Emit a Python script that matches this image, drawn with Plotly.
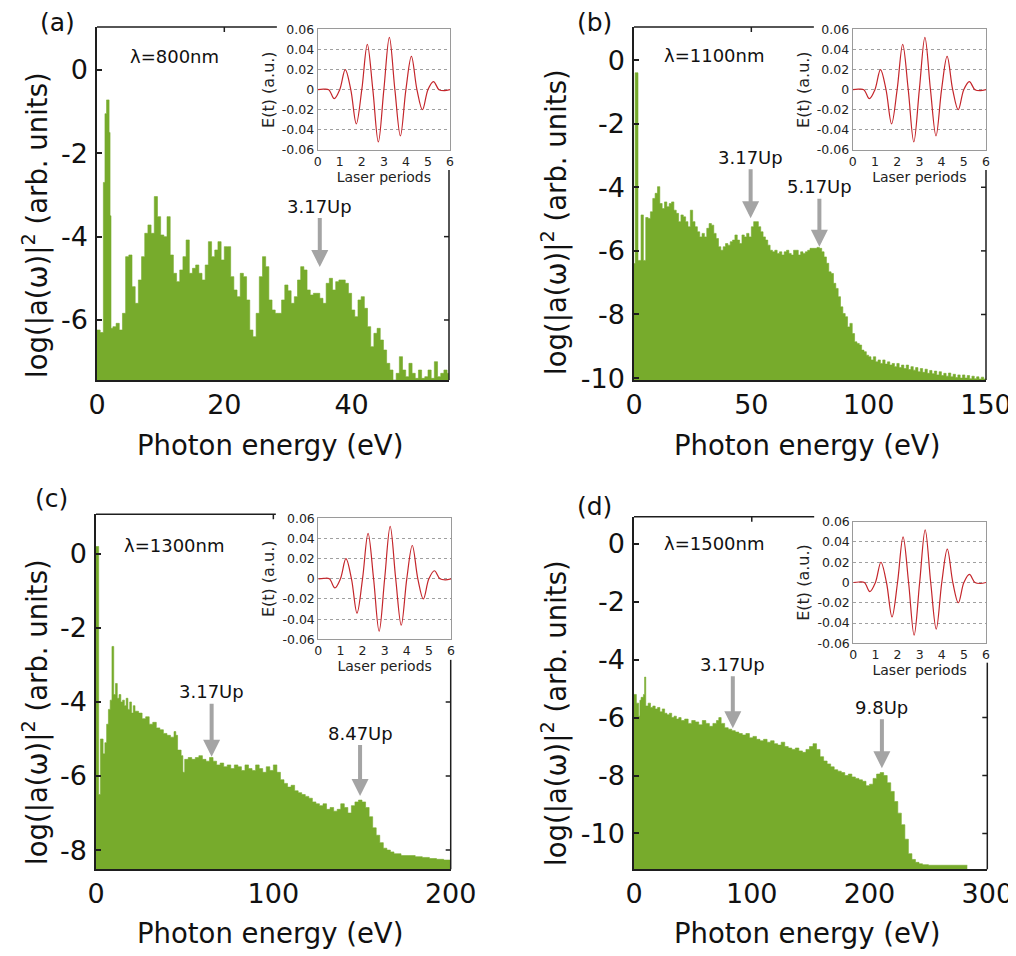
import plotly.graph_objects as go

W, H = 1016, 956          # target picture size
OFF = 8                   # page body margin: the figure starts 8 px in
WF, HF = W - OFF, H - OFF # figure size so that it fills the window
FONT = "DejaVu Sans"
INK = "#111111"
FRAME = "#1e1e1e"
GREEN = "#77ab2c"
RED = "#c4262b"
ARROW_C = "#a4a4a4"
BOX = "#9a9a9a"

# ---------------- inset pulse (same in all panels) ----------------
T_PERIODS = [0, 0.25, 0.5, 0.75, 1, 1.25, 1.5, 1.75, 2, 2.25, 2.5, 2.75, 3,
             3.25, 3.5, 3.75, 4, 4.25, 4.5, 4.75, 5, 5.25, 5.5, 5.75, 6]
E_FIELD = [0, 0.0005, 0, -0.009, 0, 0.020, 0, -0.034, 0, 0.045, 0, -0.052, 0,
           0.052, 0, -0.046, 0, 0.033, 0, -0.020, 0, 0.008, 0, -0.001, 0]
INSET_YT = [0.06, 0.04, 0.02, 0, -0.02, -0.04, -0.06]
INSET_XT = [0, 1, 2, 3, 4, 5, 6]

# ---------------- (a) 800 nm ----------------
A_E = [0, 0.5, 1.0, 1.25, 1.5, 1.9, 2.05, 2.2] + [2.5 + 0.5 * i for i in range(106)] + [55.3]
A_V = [-6.24, -6.3, -2.7, -1.05, -0.72, -1.5, -3.5, -6.2,
       # 2.5 .. 30.0
       -6.16, -6.08, -6.24, -5.84, -4.48, -4.44, -5.2, -5.6, -5.04, -4.48,
       -3.92, -3.72, -3.92, -3.04, -3.52, -3.96, -4.0, -3.52, -4.44, -4.88,
       -5.08, -4.8, -4.48, -4.08, -4.88, -4.76, -4.68, -4.88, -5.04, -4.68,
       -4.12, -4.48, -4.32, -4.12, -4.56, -4.24, -4.24, -4.96, -5.28, -5.44,
       -4.88, -4.96, -5.52, -6.24, -6.4, -5.84, -4.96, -4.48, -4.72, -5.52,
       -5.76, -5.84, -5.84, -5.52, -5.16, -5.3,
       # 30.5 .. 55.0
       -5.6, -5.44, -5.04, -4.72, -4.8, -5.28, -5.4, -5.36, -5.36, -5.48,
       -5.6, -5.12, -5.0, -5.28, -5.08, -5.04, -5.04, -5.12, -5.36, -5.76,
       -5.92, -5.52, -5.44, -5.72, -6.16, -6.64, -6.32, -6.2, -6.48, -6.72,
       -7.04, -7.2, -7.44, -7.28, -6.88, -7.2, -7.36, -7.04, -7.28, -7.4,
       -7.2, -7.4, -7.36, -7.2, -7.4, -7.0, -7.36, -7.28, -7.2, -7.28,
       -7.28]

# ---------------- (b) 1100 nm ----------------
B_E = [0, 0.5, 1.7] + list(range(3, 151))
B_V = [-6.4, -0.4, -6.3,
       -4.87, -6.3, -4.95, -4.98, -4.77, -4.35, -4.19, -3.98, -4.51, -4.67,
       -4.46, -4.61, -4.51, -4.46, -4.72, -4.82, -5.08, -4.87, -4.93, -5.08,
       -5.24, -4.72, -5.08, -5.24, -5.4, -5.56, -5.45, -5.56, -5.29, -5.14,
       -5.19, -5.45, -5.61, -5.87, -5.98, -5.87, -5.77, -5.82, -5.71, -5.66,
       -5.5, -5.66, -5.77, -5.5, -5.56, -5.45, -5.56, -5.24, -5.08, -5.08,
       -5.24, -5.4, -5.56, -5.66, -5.82, -5.98, -6.03, -5.98, -6.08, -6.03,
       -6.13, -6.03, -5.98, -6.08, -6.13, -5.98, -5.98, -6.13, -6.03, -6.08,
       -6.03, -5.98, -5.92, -5.92, -5.92, -5.89, -5.92, -6.03, -6.19, -6.39,
       -6.66, -6.71, -7.02, -7.18, -7.44, -7.76, -7.97, -8.07, -8.39, -8.28,
       -8.6, -8.86, -8.91, -8.96, -9.12, -9.17, -9.28, -9.33, -9.43, -9.33,
       -9.49, -9.43, -9.54, -9.43, -9.56, -9.49, -9.59, -9.54, -9.64, -9.54,
       -9.67, -9.59, -9.7, -9.59, -9.73, -9.64, -9.75, -9.67, -9.8, -9.7,
       -9.82, -9.72, -9.85, -9.76, -9.86, -9.78, -9.9, -9.8, -9.92, -9.85,
       -9.94, -9.84, -9.96, -9.88, -9.98, -9.9, -10.0, -9.9, -10.0, -9.92,
       -10.02, -9.94, -10.02, -9.96, -10.03, -9.97, -10.03, -10.0]

# ---------------- (c) 1300 nm ----------------
C_E = ([0, 1.5, 2.5, 4] + list(range(5, 22)) + list(range(22, 44, 2)) + [44, 45]
       + [46, 48, 49] + list(range(50, 170, 2)) + list(range(172, 201, 4)))
C_V = [0.2, -6.5, -5.0, -5.4,
       # 5 .. 21
       -5.1, -4.6, -4.2, -3.95, -2.5, -3.8, -3.5, -3.9, -3.8, -4.0,
       -3.95, -4.1, -3.9, -4.2, -4.0, -4.3, -4.1,
       # 22 .. 42
       -4.25, -4.3, -4.45, -4.4, -4.6, -4.55, -4.7, -4.75, -4.85, -4.9, -4.95,
       # 44, 45, 46, 48, 49
       -4.8, -4.9, -5.3, -5.45, -5.9,
       # 50 .. 168
       -5.55, -5.5, -5.55, -5.5, -5.45, -5.55, -5.6, -5.5, -5.6, -5.7,
       -5.65, -5.75, -5.7, -5.8, -5.7, -5.75, -5.85, -5.7, -5.8, -5.85,
       -5.7, -5.8, -5.9, -5.75, -5.85, -5.7, -5.9, -6.1, -6.2, -6.3,
       -6.25, -6.4, -6.45, -6.5, -6.55, -6.6, -6.7, -6.75, -6.8, -6.75,
       -6.9, -6.85, -6.95, -6.9, -6.75, -6.85, -7.0, -6.8, -6.7, -6.65,
       -6.7, -6.85, -7.1, -7.4, -7.6, -7.8, -7.95, -8.0, -8.05, -8.1,
       # 172 .. 200
       -8.15, -8.15, -8.18, -8.2, -8.23, -8.25, -8.27, -8.28]

# ---------------- (d) 1500 nm ----------------
D_E = ([0, 2, 4, 5, 6, 8, 9, 10] + list(range(12, 41, 2)) + list(range(43, 68, 3))
       + [70, 72] + list(range(74, 246, 3)) + [250, 260, 270, 283])
D_V = [-5.2, -5.5, -5.95, -5.4, -5.3, -5.2, -4.6, -5.6,
       # 12 .. 40
       -5.5, -5.65, -5.6, -5.7, -5.65, -5.8, -5.7, -5.85, -5.9, -5.85,
       -6.0, -5.95, -6.05, -6.0, -6.1,
       # 43 .. 67
       -6.05, -6.2, -6.1, -6.15, -6.25, -6.1, -6.2, -6.3, -6.2,
       # 70, 72
       -6.1, -6.0,
       # 74 .. 245
       -6.2, -6.35, -6.4, -6.45, -6.5, -6.55, -6.6, -6.55, -6.7, -6.65,
       -6.75, -6.8, -6.75, -6.85, -6.8, -6.9, -6.95, -6.85, -7.0, -7.05,
       -7.1, -7.05, -7.15, -7.2, -7.1, -7.0, -6.9, -7.1, -7.35, -7.5,
       -7.6, -7.7, -7.8, -7.85, -7.9, -8.0, -7.95, -8.05, -8.1, -8.15,
       -8.2, -8.35, -8.3, -8.1, -7.95, -7.9, -8.0, -8.25, -8.55, -8.9,
       -9.3, -9.7, -10.2, -10.7, -10.9, -11.0, -11.05, -11.08,
       # 250 .. 283
       -11.1, -11.1, -11.1, -11.1]

PANELS = [
    dict(tag="(a)", lam="λ=800nm", E=A_E, V=A_V, xr=[0, 55.3], yr=[-7.44, 1.03],
         xt=[0, 20, 40], yt=[0, -2, -4, -6],
         main=(97, 449, 27, 380), inset=(317.7, 450, 29.3, 150),
         top_cut=0.511, right_cut=0.595, top_ticks=[20], right_ticks=[-4, -6],
         arrows=[("3.17Up", 35.0, -4.73, -61)],
         lab=(57, 23), lam_pos=(128, 57), xtitle=(270, 445), ytitle=(35, 225)),
    dict(tag="(b)", lam="λ=1100nm", E=B_E, V=B_V, xr=[0, 150], yr=[-10.06, 1.04],
         xt=[0, 50, 100, 150], yt=[0, -2, -4, -6, -8, -10],
         main=(634, 986, 27, 380), inset=(852.7, 986, 29.3, 150),
         top_cut=0.511, right_cut=0.595, top_ticks=[50], right_ticks=[-4, -6, -8],
         arrows=[("3.17Up", 49.7, -4.97, -61), ("5.17Up", 79.0, -5.87, -60)],
         lab=(594, 23), lam_pos=(662, 55), xtitle=(807, 445), ytitle=(554, 222)),
    dict(tag="(c)", lam="λ=1300nm", E=C_E, V=C_V, xr=[0, 200], yr=[-8.52, 1.07],
         xt=[0, 100, 200], yt=[0, -2, -4, -6, -8],
         main=(96, 450.7, 514.3, 869.3), inset=(318.3, 451, 518.3, 639.3),
         top_cut=0.507, right_cut=0.59, top_ticks=[100], right_ticks=[-4, -6, -8],
         arrows=[("3.17Up", 65.2, -5.48, -65), ("8.47Up", 148.9, -6.54, -63)],
         lab=(51, 499), lam_pos=(122, 545), xtitle=(270, 933), ytitle=(35, 712)),
    dict(tag="(d)", lam="λ=1500nm", E=D_E, V=D_V, xr=[0, 300], yr=[-11.24, 0.94],
         xt=[0, 100, 200, 300], yt=[0, -2, -4, -6, -8, -10],
         main=(634, 987.3, 516.7, 869.3), inset=(853.3, 986, 521.7, 643.3),
         top_cut=0.51, right_cut=0.586, top_ticks=[100], right_ticks=[-6, -8, -10],
         arrows=[("3.17Up", 83.9, -6.37, -64), ("9.8Up", 210.5, -7.75, -61)],
         lab=(594, 507), lam_pos=(662, 543), xtitle=(807, 933), ytitle=(554, 713)),
]


def px_x(x):
    return (x - OFF) / WF


def px_y(y):
    return 1 - (y - OFF) / HF


def xdom(l, r):
    return [px_x(l), px_x(r)]


def ydom(t, b):
    return [px_y(b), px_y(t)]


def ax_name(n):
    return "" if n == 1 else str(n)


fig = go.Figure()
layout = dict(width=WF, height=HF,
              margin=dict(l=0, r=0, t=0, b=0, pad=0, autoexpand=False),
              paper_bgcolor="white", plot_bgcolor="white", showlegend=False,
              font=dict(family=FONT, color=INK))
shapes, annotations = [], []

for i, p in enumerate(PANELS):
    nm, ni = 2 * i + 1, 2 * i + 2
    xm, ym = "x" + ax_name(nm), "y" + ax_name(nm)
    xi, yi = "x" + ax_name(ni), "y" + ax_name(ni)
    l, r, t, b = p["main"]
    il, ir, it, ib = p["inset"]
    pw, ph = r - l, b - t

    # spectrum: baseline + filled step curve
    fig.add_trace(go.Scatter(x=[p["xr"][0], p["E"][-1]], y=[p["yr"][0], p["yr"][0]],
                             mode="lines", line=dict(width=0, color=GREEN),
                             xaxis=xm, yaxis=ym, hoverinfo="skip"))
    fig.add_trace(go.Scatter(x=p["E"], y=p["V"], mode="lines",
                             line=dict(width=0.6, color=GREEN, shape="hv"),
                             fill="tonexty", fillcolor=GREEN,
                             xaxis=xm, yaxis=ym))
    # inset pulse
    fig.add_trace(go.Scatter(x=T_PERIODS, y=E_FIELD, mode="lines",
                             line=dict(width=1.2, color=RED, shape="spline", smoothing=1.0),
                             xaxis=xi, yaxis=yi))

    layout["xaxis" + ax_name(nm)] = dict(
        domain=xdom(l, r), range=p["xr"], anchor=ym, showline=True, linecolor=FRAME,
        linewidth=1.5, mirror=False, ticks="", tickvals=p["xt"],
        ticktext=[f"{v:g}" for v in p["xt"]],
        tickfont=dict(family=FONT, size=27, color=INK), showgrid=False, zeroline=False,
        ticklabelstandoff=0, ticklabeloverflow="allow", automargin=False)
    layout["yaxis" + ax_name(nm)] = dict(
        domain=ydom(t, b), range=p["yr"], anchor=xm, showline=True, linecolor=FRAME,
        linewidth=1.5, mirror=False, ticks="inside", ticklen=5, tickwidth=1.5,
        tickcolor=FRAME, tickvals=p["yt"], ticktext=[f"{v:g}" for v in p["yt"]],
        tickfont=dict(family=FONT, size=27, color=INK), showgrid=False, zeroline=False,
        ticklabelstandoff=2, ticklabeloverflow="allow", automargin=False)
    layout["xaxis" + ax_name(ni)] = dict(
        domain=xdom(il, ir), range=[0, 6], anchor=yi, showline=True, linecolor=BOX,
        linewidth=1, mirror=True, ticks="", tickvals=INSET_XT,
        ticktext=[str(v) for v in INSET_XT],
        tickfont=dict(family=FONT, size=12.5, color="#222"), showgrid=False,
        zeroline=False, ticklabelstandoff=0, automargin=False,
        title=dict(text="Laser periods", font=dict(family=FONT, size=14, color="#222"),
                   standoff=3))
    layout["yaxis" + ax_name(ni)] = dict(
        domain=ydom(it, ib), range=[-0.06, 0.06], anchor=xi, showline=True,
        linecolor=BOX, linewidth=1, mirror=True, ticks="", tickvals=INSET_YT,
        ticktext=[f"{v:g}" for v in INSET_YT],
        tickfont=dict(family=FONT, size=12.5, color="#222"), showgrid=True,
        gridcolor="#a0a0a0", griddash="dot", gridwidth=1, zeroline=False,
        ticklabelstandoff=0, automargin=False,
        title=dict(text="E(t) (a.u.)", font=dict(family=FONT, size=16, color="#222"),
                   standoff=3))

    # partial frame (top and right), interrupted by the inset
    shapes.append(dict(type="line", xref=xm + " domain", yref=ym + " domain",
                       x0=0, x1=p["top_cut"], y0=1, y1=1,
                       line=dict(color=FRAME, width=1.5), layer="above"))
    shapes.append(dict(type="line", xref=xm + " domain", yref=ym + " domain",
                       x0=1, x1=1, y0=0, y1=p["right_cut"],
                       line=dict(color=FRAME, width=1.5), layer="above"))
    for tv in p["top_ticks"]:
        shapes.append(dict(type="line", xref=xm, yref=ym + " domain", x0=tv, x1=tv,
                           y0=1, y1=1 - 5 / ph, line=dict(color=FRAME, width=1.5)))
    for tv in p["right_ticks"]:
        shapes.append(dict(type="line", xref=xm + " domain", yref=ym, x0=1,
                           x1=1 - 5 / pw, y0=tv, y1=tv, line=dict(color=FRAME, width=1.5)))

    # arrows with labels
    for label, xa, ya, ay in p["arrows"]:
        annotations.append(dict(x=xa, y=ya, xref=xm, yref=ym, text=label, showarrow=True,
                                ax=0, ay=ay, arrowhead=2, arrowsize=0.85, arrowwidth=4,
                                arrowcolor=ARROW_C,
                                font=dict(family=FONT, size=18, color=INK)))
    # panel tag
    annotations.append(dict(x=px_x(p["lab"][0]), y=px_y(p["lab"][1]), xref="paper",
                            yref="paper", text=p["tag"], showarrow=False,
                            xanchor="center", yanchor="middle",
                            font=dict(family=FONT, size=25, color=INK)))
    # wavelength
    annotations.append(dict(x=px_x(p["lam_pos"][0]), y=px_y(p["lam_pos"][1]),
                            xref="paper", yref="paper", text=p["lam"], showarrow=False,
                            xanchor="left", yanchor="middle",
                            font=dict(family=FONT, size=18, color=INK)))
    # axis titles
    annotations.append(dict(x=px_x(p["xtitle"][0]), y=px_y(p["xtitle"][1]), xref="paper",
                            yref="paper", text="Photon energy (eV)", showarrow=False,
                            xanchor="center", yanchor="middle",
                            font=dict(family=FONT, size=27.5, color=INK)))
    annotations.append(dict(x=px_x(p["ytitle"][0]), y=px_y(p["ytitle"][1]), xref="paper",
                            yref="paper", text="log(|a(ω)|<sup>2</sup> (arb. units)",
                            textangle=-90, showarrow=False,
                            xanchor="center", yanchor="middle",
                            font=dict(family=FONT, size=27.5, color=INK)))

layout["shapes"] = shapes
layout["annotations"] = annotations
fig.update_layout(**layout)
fig.write_html("out.html")
